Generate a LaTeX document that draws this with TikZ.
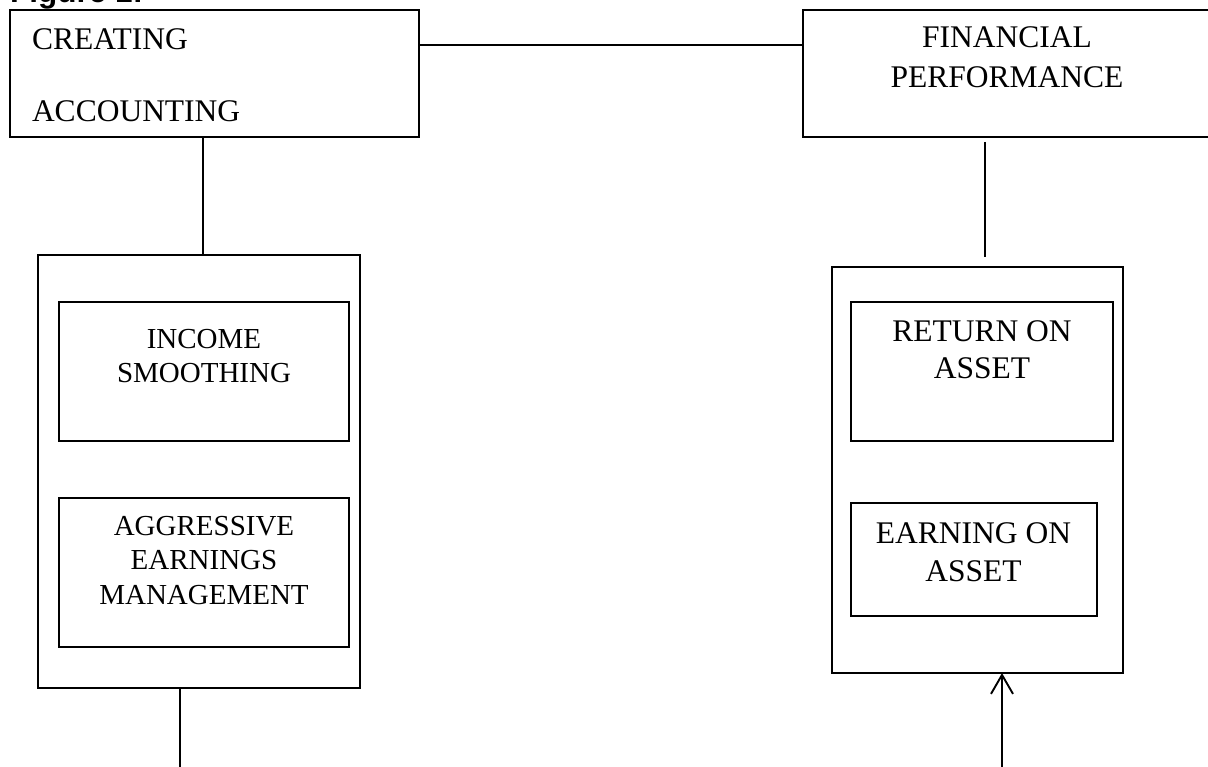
\documentclass[tikz,border=0pt]{standalone}
\usepackage{fontspec}
\setmainfont{Liberation Serif}
\newfontfamily\figfont{Liberation Sans}
\usetikzlibrary{arrows.meta}

\tikzset{
  box/.style={draw, line width=1.9pt, rectangle, inner sep=0pt, outer sep=0pt},
  link/.style={line width=1.9pt},
  % multi-line text nodes: the base anchor sits on the last line
  txt/.style={inner sep=0pt, outer sep=0pt, align=center, anchor=base},
  bigfont/.style={font=\fontsize{31.5}{#1}\selectfont},
  smallfont/.style={font=\fontsize{29}{#1}\selectfont},
}

\begin{document}
\begin{tikzpicture}[x=1pt, y=-1pt]
\useasboundingbox (0,0) rectangle (1208,767);
\clip (0,0) rectangle (1208,767);

% caption, partly above the page edge
\node[inner sep=0pt, anchor=base west, font=\figfont\bfseries\fontsize{31.5}{36}\selectfont]
  (fig) at (10,3) {Figure 1:};

% top boxes
\node[box, minimum width=409pt, minimum height=127pt] (ca) at (214.5,73.5) {};
\node[txt, align=left, anchor=base west, bigfont=72] (catext) at (32,122) {CREATING\\ACCOUNTING};

\node[box, minimum width=409pt, minimum height=127pt] (fp) at (1007.5,73.5) {};
\node[txt, bigfont=40] (fptext) at (1007,88) {FINANCIAL\\PERFORMANCE};

% left group
\node[box, minimum width=322pt, minimum height=433pt] (lo) at (199,471.5) {};
\node[box, minimum width=290pt, minimum height=139pt] (is) at (204,371.5) {};
\node[txt, smallfont=33.5] (istext) at (204,382) {INCOME\\SMOOTHING};
\node[box, minimum width=290pt, minimum height=149pt] (aem) at (204,572.5) {};
\node[txt, smallfont=34.5] (aemtext) at (204,604) {AGGRESSIVE\\EARNINGS\\MANAGEMENT};

% right group
\node[box, minimum width=291pt, minimum height=406pt] (ro) at (977.5,470) {};
\node[box, minimum width=262pt, minimum height=139pt] (roa) at (982,371.5) {};
\node[txt, bigfont=37] (roatext) at (982,379) {RETURN ON\\ASSET};
\node[box, minimum width=246pt, minimum height=113pt] (eoa) at (974,559.5) {};
\node[txt, bigfont=38] (eoatext) at (973.5,581) {EARNING ON\\ASSET};

% connectors
\coordinate (lowend) at (180,775);
\coordinate (arrowfoot) at (1002,775);

\draw[link] (ca.east |- 0,45) -- (fp.west |- 0,45);
\draw[link] (ca.south -| 203,0) -- (lo.north -| 203,0);
\draw[link, shorten <=5pt, shorten >=10pt] (fp.south -| 985,0) -- (ro.north -| 985,0);
\draw[link] (lo.south -| lowend) -- (lowend);
\draw[link, -{Straight Barb[length=19pt, width=22pt, line width=1.9pt]}]
  (arrowfoot) -- (ro.south -| arrowfoot);
\end{tikzpicture}
\end{document}
